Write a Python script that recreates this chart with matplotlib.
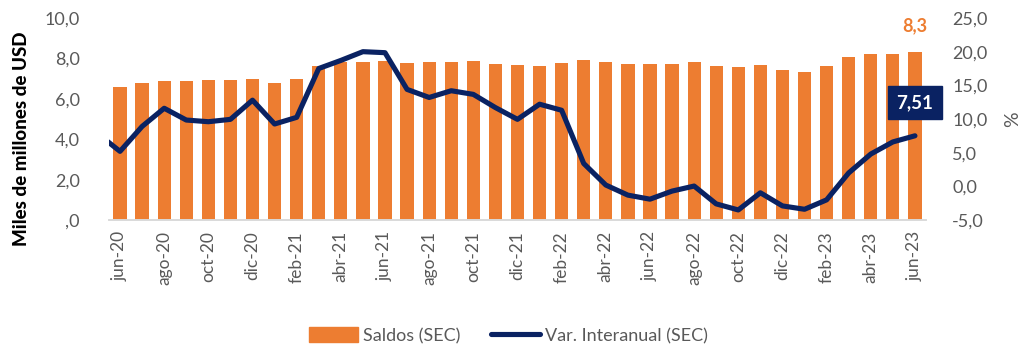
import matplotlib
matplotlib.use("Agg")
import matplotlib.pyplot as plt
from matplotlib.lines import Line2D
from matplotlib.patches import Patch

plt.rcParams["font.family"] = ["Lato", "DejaVu Sans"]

# Monthly series, jun-20 .. jun-23 (the line also carries may-20, just left of the axis)
months = ["jun-20", "jul-20", "ago-20", "sep-20", "oct-20", "nov-20", "dic-20",
          "ene-21", "feb-21", "mar-21", "abr-21", "may-21", "jun-21", "jul-21",
          "ago-21", "sep-21", "oct-21", "nov-21", "dic-21", "ene-22", "feb-22",
          "mar-22", "abr-22", "may-22", "jun-22", "jul-22", "ago-22", "sep-22",
          "oct-22", "nov-22", "dic-22", "ene-23", "feb-23", "mar-23", "abr-23",
          "may-23", "jun-23"]

saldos = [6.57, 6.78, 6.90, 6.87, 6.92, 6.92, 6.96, 6.78, 6.98, 7.64, 7.84,
          7.80, 7.87, 7.77, 7.80, 7.82, 7.85, 7.72, 7.66, 7.61, 7.77, 7.90,
          7.82, 7.72, 7.74, 7.72, 7.82, 7.62, 7.57, 7.66, 7.43, 7.33, 7.62,
          8.07, 8.20, 8.22, 8.30]

var_prev = 7.8  # may-20
var_interanual = [5.2, 8.9, 11.6, 9.85, 9.6, 9.95, 12.8, 9.26, 10.25, 17.5,
                  18.7, 20.0, 19.85, 14.4, 13.2, 14.2, 13.66, 11.7, 9.95, 12.2,
                  11.3, 3.4, 0.2, -1.3, -1.9, -0.7, 0.05, -2.6, -3.5, -0.95,
                  -2.9, -3.4, -2.0, 2.0, 4.8, 6.6, 7.51]

ORANGE = "#ED7D31"
NAVY = "#0A2262"
GRAY = "#595959"
LW = 3.7

fig = plt.figure(figsize=(10.33, 3.46), dpi=100)
ax = fig.add_axes([0.1055, 0.364, 0.7909, 0.584])
ax2 = ax.twinx()

x = list(range(len(months)))
ax.bar(x, saldos, width=0.6, color=ORANGE, zorder=2)
ax.set_ylim(0, 10)
ax.set_xlim(-0.5, len(months) - 0.5)

ax2.plot([-1] + x, [var_prev] + var_interanual, color=NAVY, lw=LW,
         solid_joinstyle="round", solid_capstyle="round", zorder=3)
ax2.set_ylim(-5, 25)

# ticks and labels
ax.set_yticks([0, 2, 4, 6, 8, 10])
ax.set_yticklabels([",0", "2,0", "4,0", "6,0", "8,0", "10,0"])
ax2.set_yticks([-5, 0, 5, 10, 15, 20, 25])
ax2.set_yticklabels(["-5,0", "0,0", "5,0", "10,0", "15,0", "20,0", "25,0"])
ax.set_xticks(x[::2])
ax.set_xticklabels(months[::2], rotation=90)

for a in (ax, ax2):
    for s in ("top", "left", "right"):
        a.spines[s].set_visible(False)
    a.spines["bottom"].set_color("#D9D9D9")
    a.spines["bottom"].set_linewidth(1.2)
    a.tick_params(axis="both", length=0, labelsize=13, labelcolor=GRAY)
ax.tick_params(axis="y", pad=21)
ax2.tick_params(axis="y", pad=19)
ax.tick_params(axis="x", labelsize=12.5, pad=8)

ax.set_ylabel("Miles de millones de USD", fontsize=13.5, fontweight="black",
              color="black")
ax.yaxis.set_label_coords(-0.097, 0.40)
ax2.set_ylabel("%", fontsize=14, color=GRAY)
ax2.yaxis.set_label_coords(1.096, 0.5)

# value labels on the last month
ax.annotate(f"{saldos[-1]:.1f}".replace(".", ","), xy=(x[-1], saldos[-1]),
            xytext=(0, 13), textcoords="offset points", ha="center",
            va="bottom", color=ORANGE, fontsize=13, fontweight="bold")
ax2.annotate(f"{var_interanual[-1]:.2f}".replace(".", ","),
             xy=(x[-1], var_interanual[-1]), xytext=(0, 24),
             textcoords="offset points", ha="center", va="center",
             color="white", fontsize=13.5, fontweight="bold", zorder=5,
             bbox=dict(boxstyle="square,pad=0.45", fc=NAVY, ec=NAVY))

handles = [Patch(color=ORANGE),
           Line2D([0], [0], color=NAVY, lw=LW, solid_capstyle="round")]
fig.legend(handles, ["Saldos (SEC)", "Var. Interanual (SEC)"],
           loc="center", bbox_to_anchor=(0.492, 0.03), ncol=2, frameon=False,
           fontsize=13, labelcolor=GRAY, handlelength=2.7, handleheight=0.9,
           handletextpad=0.28, columnspacing=1.7)

fig.savefig("out.png", dpi=100)
